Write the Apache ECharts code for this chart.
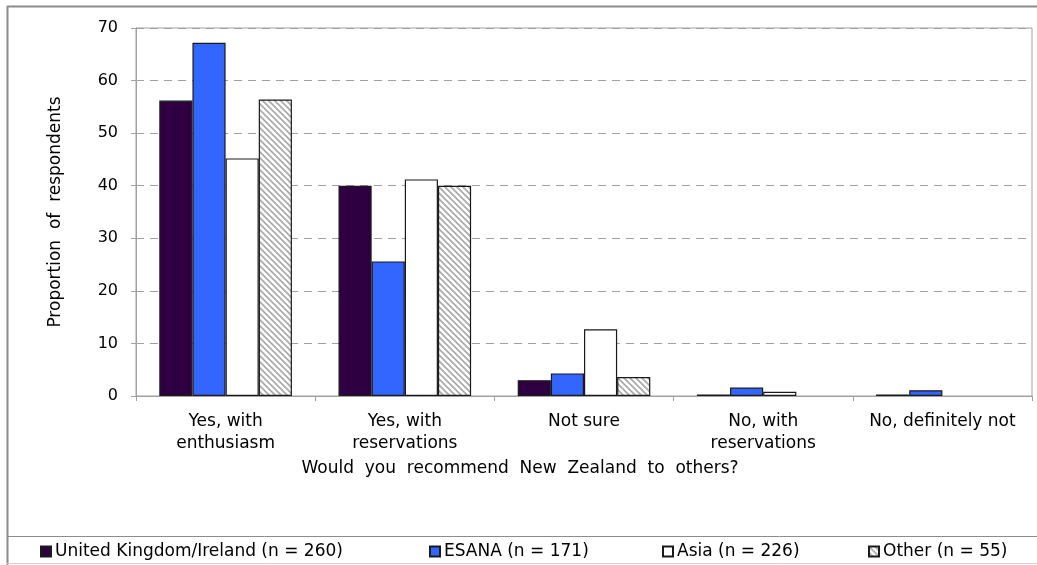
<!DOCTYPE html>
<html>
<head>
<meta charset="utf-8">
<script src="https://cdn.jsdelivr.net/npm/echarts@6/dist/echarts.min.js"></script>
<style>
  html, body { margin: 0; padding: 0; background: #fff; }
  #chart { width: 1037px; height: 565px; }
</style>
</head>
<body>
<div id="chart"></div>
<script>
// Survey answers: would visitors recommend New Zealand?
const categories = ['Yes, with\nenthusiasm', 'Yes, with\nreservations', 'Not sure', 'No, with\nreservations', 'No, definitely not'];
const seriesNames = ['United Kingdom/Ireland (n = 260)', 'ESANA (n = 171)', 'Asia (n = 226)', 'Other (n = 55)'];
const ukIreland = [56.2, 40.0, 3.0, 0.3, 0.3];
const esana     = [67.2, 25.6, 4.3, 1.6, 1.1];
const asia      = [45.2, 41.2, 12.7, 0.8, 0];
const other     = [56.4, 40.0, 3.6, 0, 0];
const yTicks = [0, 10, 20, 30, 40, 50, 60, 70];

const FONT = '"DejaVu Sans", Verdana, sans-serif';

// Diagonal hatching used for the "Other" group
function hatchPattern() {
  const c = document.createElement('canvas');
  c.width = 6; c.height = 6;
  const g = c.getContext('2d');
  g.fillStyle = '#ffffff';
  g.fillRect(0, 0, 6, 6);
  g.strokeStyle = '#a8a8a8';
  g.lineWidth = 1.6;
  g.beginPath();
  g.moveTo(-1, -1); g.lineTo(7, 7);
  g.moveTo(-4, 2); g.lineTo(1, 7);
  g.moveTo(5, -1); g.lineTo(8, 2);
  g.stroke();
  return c;
}

const fills = ['#2e0042', '#3366ff', '#ffffff', { image: hatchPattern(), repeat: 'repeat' }];
const values = [ukIreland, esana, asia, other];

const chart = echarts.init(document.getElementById('chart'), null, { renderer: 'canvas' });

const legendX = [40, 429, 662, 868];

chart.setOption({
  animation: false,
  backgroundColor: '#ffffff',
  textStyle: { fontFamily: FONT },
  grid: {
    left: 136, right: 5, top: 28, bottom: 169,
    show: true, borderColor: '#a0a0a0', borderWidth: 1, backgroundColor: 'transparent'
  },
  legend: seriesNames.map((n, i) => ({
    data: [n],
    left: legendX[i],
    top: 543,
    icon: 'rect',
    itemWidth: 10,
    itemHeight: 10,
    itemGap: 5,
    padding: 0,
    textStyle: { fontSize: 17, color: '#000', fontFamily: FONT, padding: [0, 0, 0, -1] }
  })),
  xAxis: {
    type: 'category',
    data: categories,
    name: 'Would  you  recommend  New  Zealand  to  others?',
    nameLocation: 'middle',
    nameGap: 62,
    // the title sits under the middle of the whole chart, left of the plot centre
    nameTextStyle: { fontSize: 17, color: '#000', fontFamily: FONT, padding: [0, 128, 0, 0] },
    axisLine: { lineStyle: { color: '#a0a0a0', width: 1 } },
    axisTick: { show: true, length: 5, lineStyle: { color: '#a0a0a0' } },
    axisLabel: { fontSize: 17, color: '#000', margin: 15, lineHeight: 22, interval: 0, fontFamily: FONT }
  },
  yAxis: {
    type: 'value',
    min: yTicks[0],
    max: yTicks[yTicks.length - 1],
    interval: 10,
    name: 'Proportion  of  respondents',
    nameLocation: 'middle',
    nameGap: 72,
    nameRotate: 90,
    nameTextStyle: { fontSize: 17, color: '#000', fontFamily: FONT },
    axisLine: { show: true, lineStyle: { color: '#a0a0a0', width: 1 } },
    axisTick: { show: true, length: 5, lineStyle: { color: '#a0a0a0' } },
    axisLabel: { fontSize: 16, color: '#000', margin: 18, fontFamily: FONT },
    splitLine: { show: true, lineStyle: { color: '#a0a0a0', type: [8, 6], width: 1 } }
  },
  series: seriesNames.map((n, i) => ({
    name: n,
    type: 'bar',
    // a zero share leaves no bar at all
    data: values[i].map(v => (v === 0 ? null : v)),
    barGap: '0%',
    barCategoryGap: '26%',
    itemStyle: { color: fills[i], borderColor: '#1a1a1a', borderWidth: 1.2 }
  })),
  graphic: [
    // outer frame of the chart and the legend strip
    { type: 'line', shape: { x1: 7, y1: 6.5, x2: 1037, y2: 6.5 }, style: { stroke: '#8c8c8c', lineWidth: 2 }, silent: true },
    { type: 'line', shape: { x1: 7.5, y1: 6, x2: 7.5, y2: 565 }, style: { stroke: '#8c8c8c', lineWidth: 2 }, silent: true },
    { type: 'line', shape: { x1: 7, y1: 536.5, x2: 1037, y2: 536.5 }, style: { stroke: '#8c8c8c', lineWidth: 1 }, silent: true },
    { type: 'line', shape: { x1: 7, y1: 563.5, x2: 1037, y2: 563.5 }, style: { stroke: '#d0d0d0', lineWidth: 1 }, silent: true }
  ]
});
</script>
</body>
</html>
